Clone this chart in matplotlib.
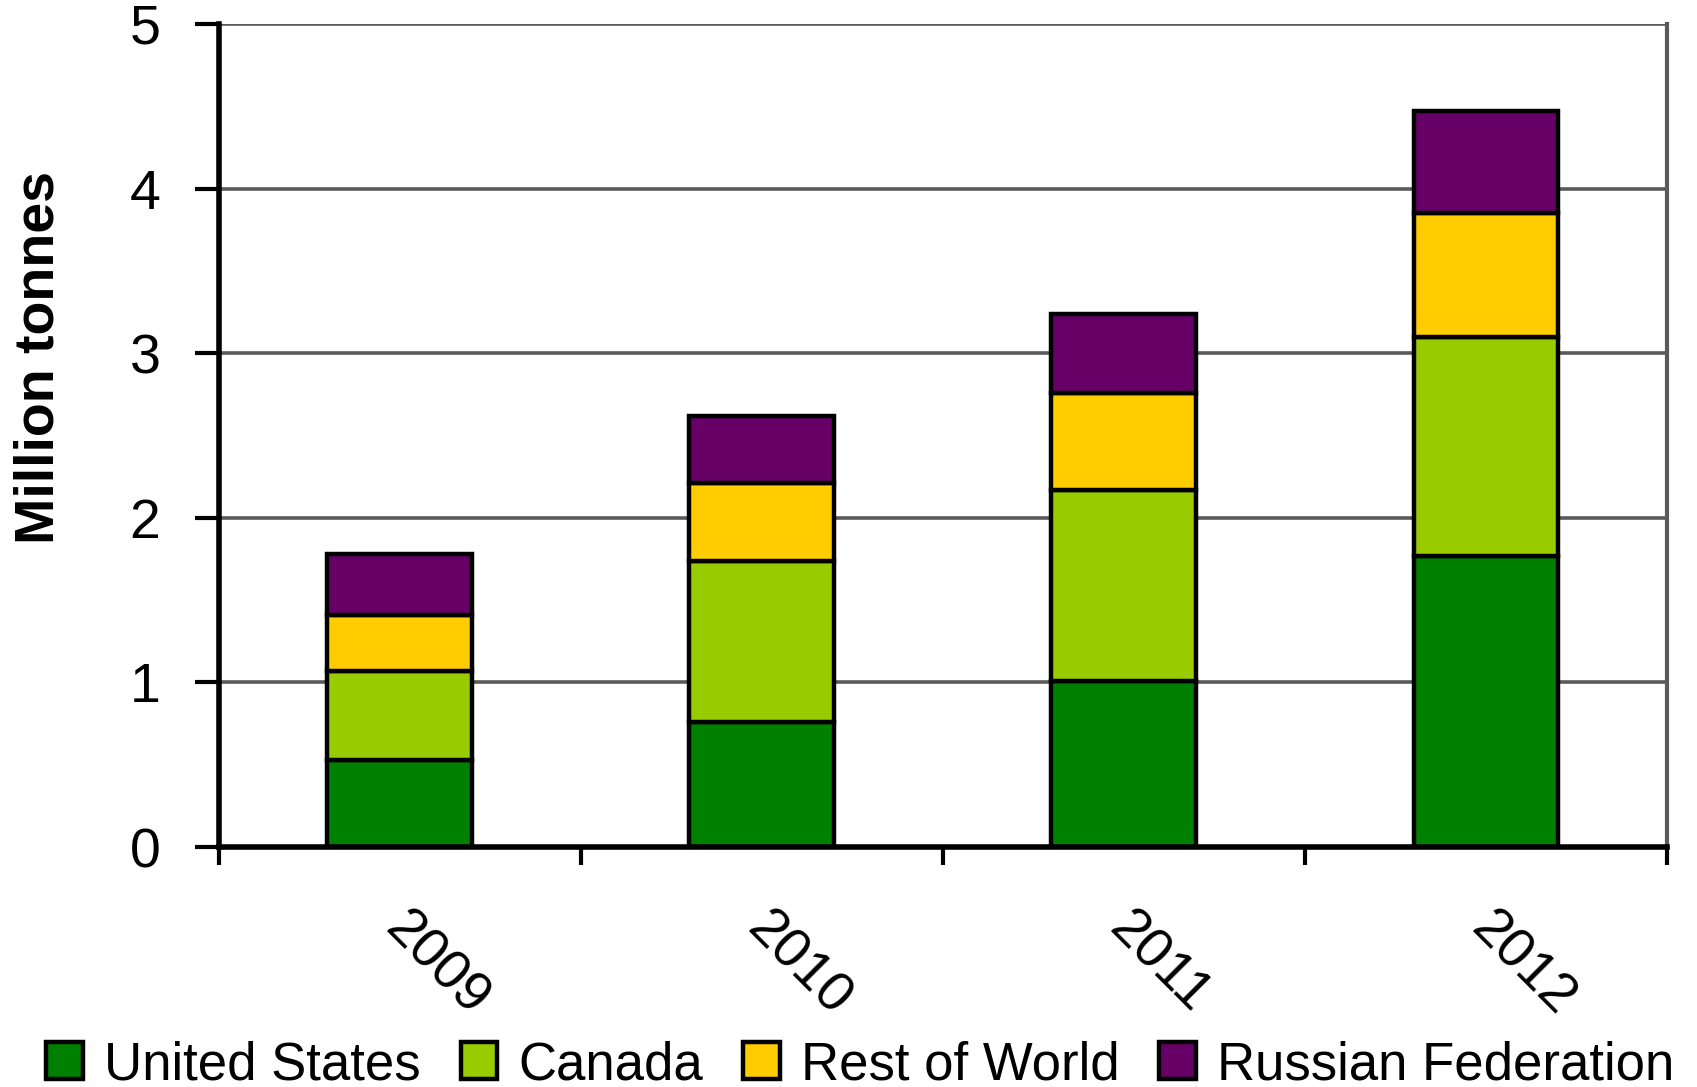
import matplotlib
matplotlib.use("Agg")
import matplotlib.pyplot as plt
import matplotlib.transforms as mtransforms
import numpy as np

plt.rcParams["font.family"] = ["Liberation Sans", "DejaVu Sans"]

# Data (million tonnes)
years = ["2009", "2010", "2011", "2012"]
united_states = [0.53, 0.76, 1.01, 1.77]
canada = [0.54, 0.98, 1.16, 1.33]
rest_of_world = [0.34, 0.47, 0.59, 0.75]
russia = [0.37, 0.41, 0.48, 0.62]

series_names = ["United States", "Canada", "Rest of World", "Russian Federation"]
series_values = [united_states, canada, rest_of_world, russia]
series_colors = ["#008000", "#99CC00", "#FFCC00", "#660066"]

fig = plt.figure(figsize=(16.97, 10.87), dpi=100)
ax = fig.add_axes([218.6 / 1697, 240 / 1087, (1667 - 218.6) / 1697, (847 - 24) / 1087])

x = np.arange(len(years))
bottom = np.zeros(len(years))
for name, vals, col in zip(series_names, series_values, series_colors):
    ax.bar(x, vals, width=0.4, bottom=bottom, color=col, edgecolor="black",
           linewidth=3.2, label=name, zorder=3)
    bottom += np.array(vals)

ax.set_xlim(-0.5, len(years) - 0.5)
ax.set_ylim(0, 5)
ax.set_yticks(range(0, 6))
ax.yaxis.grid(True, color="#5a5a5a", linewidth=2.6, zorder=0)

# category boundaries as major ticks, labels on minor ticks at centres
ax.set_xticks(np.arange(-0.5, len(years), 1.0))
ax.set_xticklabels([])
ax.set_xticks(x, minor=True)
ax.set_xticklabels(years, minor=True, rotation=-45, ha="left", va="top",
                   fontsize=40)
ax.tick_params(axis="x", which="minor", length=0, pad=40)
ax.tick_params(axis="x", which="major", length=13, width=3, direction="out")
ax.tick_params(axis="y", length=17, width=3, direction="out", pad=25,
               labelsize=40)
shift = mtransforms.ScaledTranslation(-26 / 100, 0, fig.dpi_scale_trans)
for lbl in ax.get_xticklabels(minor=True):
    lbl.set_transform(lbl.get_transform() + shift)

for side in ["left", "bottom"]:
    ax.spines[side].set_linewidth(4)
    ax.spines[side].set_color("black")
    ax.spines[side].set_zorder(4)
ax.spines["top"].set_visible(False)
ax.spines["right"].set_color("#5a5a5a")
ax.spines["right"].set_linewidth(3)

fig.text(40 / 1697, 1 - 357 / 1087, "Million tonnes", rotation=90,
         ha="center", va="center", fontsize=40, fontweight="bold")

fig.legend(loc="center", bbox_to_anchor=(0.507, 22 / 1087), ncol=4,
           frameon=False, fontsize=38, handlelength=0.7, handleheight=0.7,
           handletextpad=0.4, columnspacing=0.75, borderaxespad=0)

fig.savefig("out.png", dpi=100)
